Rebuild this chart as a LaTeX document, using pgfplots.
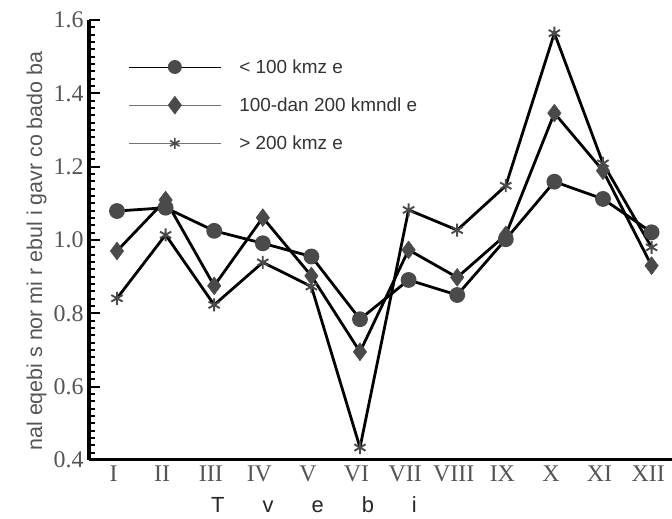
\documentclass[border=0pt]{standalone}
\usepackage{fontspec}
\setmainfont{Liberation Serif}
\newfontfamily\sansf{Liberation Sans}
\usepackage{pgfplots}
\pgfplotsset{compat=1.18}
\definecolor{mk}{HTML}{4A4A4A}
\definecolor{tl}{HTML}{555555}
\begin{document}
\begin{tikzpicture}
\useasboundingbox (0,0) rectangle (672bp,519bp);
\begin{axis}[
  at={(89bp,59bp)}, anchor=south west,
  scale only axis, width=583bp, height=440bp,
  xmin=0.424, xmax=12.42, ymin=0.4, ymax=1.6,
  axis x line*=bottom, axis y line*=left,
  axis line style={line width=3bp, -},
  every outer x axis line/.append style={line width=3bp},
  every outer y axis line/.append style={line width=3bp},
  xtick={0.93,1.93,2.93,3.93,4.93,5.93,6.93,7.93,8.93,9.93,10.93,11.93},
  xticklabels={I,II,III,IV,V,VI,VII,VIII,IX,X,XI,XII},
  x tick style={draw=none},
  extra x ticks={1.43,2.43,3.43,4.43,5.43,6.43,7.43,8.43,9.43,10.43,11.43},
  extra x tick labels={},
  extra x tick style={tick align=outside, major tick length=9bp, tick style={line width=3bp, black, draw=black}},
  ytick={0.4,0.6,0.8,1.0,1.2,1.4,1.6},
  minor y tick num=9,
  y tick style={line width=2.2bp, black, draw=black},
  ytick align=inside,
  major tick length=11bp, minor tick length=6bp,
  /pgf/number format/assume math mode=true,
  yticklabel style={/pgf/number format/fixed, /pgf/number format/fixed zerofill, /pgf/number format/precision=1, xshift=-2bp},
  tick label style={font=\fontsize{24}{26}\selectfont, text=tl},
  xticklabel style={yshift=-2bp},
  ylabel={\sansf nal eqebi s nor mi r ebul i gavr co bado ba},
  ylabel style={at={(axis description cs:-0.09,0.475)}, anchor=center, rotate=0, font=\fontsize{21.5}{23}\selectfont, text=tl},
  xlabel={\sansf T\hspace{38bp}v\hspace{38bp}e\hspace{38bp}b\hspace{38bp}i},
  xlabel style={at={(axis description cs:0.386,-0.102)}, anchor=center, font=\fontsize{22}{24}\selectfont, text=black!85},
  legend style={draw=none, fill=none, at={(axis description cs:0.062,0.92)}, anchor=north west,
    font=\sansf\fontsize{19}{21}\selectfont, text=black!80, row sep=19bp,
    /tikz/every odd column/.append style={column sep=16bp}},
  legend cell align=left,
  legend image code/.code={
    \draw[mark repeat=2,mark phase=2,#1] plot coordinates {(0bp,0bp) (46bp,0bp) (92bp,0bp)};
  },
  clip=false,
]
\addlegendimage{black, line width=0.9pt, mark=*, mark size=6.5bp, mark options={fill=mk, draw=mk}}
\addlegendentry{< 100 kmz e}
\addlegendimage{black!55, line width=1pt, mark=diamond*, mark size=9bp, mark options={fill=mk, draw=mk, solid, line width=0.4pt}}
\addlegendentry{100-dan 200 kmndl e}
\addlegendimage{black!55, line width=1pt, mark=asterisk, mark size=5.5bp, mark options={draw=mk, line width=1.6bp}}
\addlegendentry{> 200 kmz e}

\addplot[forget plot, black, line width=2.8bp, mark=*, mark size=6.5bp, mark options={fill=mk, draw=mk}] coordinates {
(1,1.079) (2,1.088) (3,1.025) (4,0.991) (5,0.955) (6,0.784) (7,0.891) (8,0.850) (9,1.002) (10,1.159) (11,1.112) (12,1.021)};
\addplot[forget plot, black, line width=2.8bp, mark=diamond*, mark size=9bp, mark options={fill=mk, draw=mk, line width=0.4pt}] coordinates {
(1,0.970) (2,1.109) (3,0.875) (4,1.061) (5,0.902) (6,0.695) (7,0.973) (8,0.898) (9,1.014) (10,1.346) (11,1.189) (12,0.930)};
\addplot[forget plot, black, line width=2.8bp, mark=asterisk, mark size=6.5bp, mark options={draw=mk, line width=1.9bp}] coordinates {
(1,0.841) (2,1.014) (3,0.823) (4,0.939) (5,0.873) (6,0.434) (7,1.082) (8,1.027) (9,1.148) (10,1.564) (11,1.209) (12,0.980)};
\end{axis}
\end{tikzpicture}
\end{document}
